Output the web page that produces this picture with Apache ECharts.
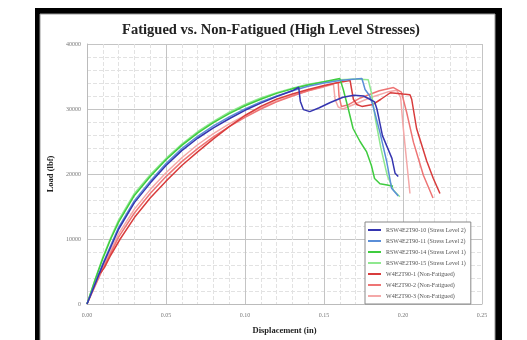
<!DOCTYPE html>
<html><head><meta charset="utf-8">
<script src="https://cdn.jsdelivr.net/npm/echarts@6/dist/echarts.min.js"></script>
<style>html,body{margin:0;padding:0;background:#fff}#c{width:527px;height:340px}</style>
</head><body><div id="c"></div>
<script>
var titleText = 'Fatigued vs. Non-Fatigued (High Level Stresses)';
var xName = 'Displacement (in)';
var yName = 'Load (lbf)';
var seriesNames = ['RSW4E2T90-10 (Stress Level 2)','RSW4E2T90-11 (Stress Level 2)','RSW4E2T90-14 (Stress Level 1)','RSW4E2T90-15 (Stress Level 1)','W4E2T90-1 (Non-Fatigued)','W4E2T90-2 (Non-Fatigued)','W4E2T90-3 (Non-Fatigued)'];
var seriesColors = ['#3535b0','#5a8ed8','#3fcc3f','#8fe88f','#d83c3c','#ee7474','#f4a8a8'];

var rsw10 = [[0,0],[0.01,6000],[0.02,11500],[0.03,15600],[0.04,18600],[0.05,21300],[0.06,23600],[0.07,25500],[0.08,27100],[0.09,28500],[0.10,29800],[0.11,30900],[0.12,31900],[0.13,32800],[0.134,33350],[0.135,31200],[0.137,29900],[0.141,29600],[0.147,30200],[0.154,31000],[0.162,31800],[0.169,32100],[0.175,32000],[0.179,31500],[0.182,31100],[0.1835,30000],[0.187,25900],[0.193,22400],[0.195,20100],[0.197,19600]];
var rsw11 = [[0,0],[0.01,6200],[0.02,11800],[0.03,15900],[0.04,18900],[0.05,21600],[0.06,23900],[0.07,25800],[0.08,27400],[0.09,28800],[0.10,30000],[0.11,31100],[0.12,32000],[0.13,32800],[0.14,33500],[0.15,34000],[0.16,34400],[0.17,34600],[0.174,34700],[0.176,33000],[0.179,32000],[0.181,30500],[0.1854,26400],[0.1897,21900],[0.1928,17800],[0.197,16600]];
var rsw14 = [[0,0],[0.005,3600],[0.01,7000],[0.015,10000],[0.02,12600],[0.03,16700],[0.04,19600],[0.05,22200],[0.06,24400],[0.07,26300],[0.08,27900],[0.09,29300],[0.10,30500],[0.11,31500],[0.12,32400],[0.13,33100],[0.14,33700],[0.15,34200],[0.16,34700],[0.1622,33000],[0.1654,30000],[0.1684,27000],[0.1728,25000],[0.177,23400],[0.180,21300],[0.182,19300],[0.1854,18500],[0.190,18300],[0.1937,18100]];
var rsw15 = [[0,0],[0.005,3700],[0.01,7200],[0.015,10200],[0.02,12900],[0.03,17000],[0.04,19900],[0.05,22400],[0.06,24600],[0.07,26500],[0.08,28100],[0.09,29500],[0.10,30700],[0.11,31700],[0.12,32500],[0.13,33200],[0.14,33800],[0.15,34200],[0.16,34500],[0.17,34600],[0.178,34500],[0.180,32500],[0.1825,28500],[0.186,24000],[0.190,19800],[0.194,17500],[0.198,16500]];
var w1 = [[0,0],[0.005,3200],[0.007,4600],[0.009,4900],[0.011,5600],[0.015,7500],[0.021,10000],[0.03,13300],[0.04,16300],[0.05,18900],[0.06,21300],[0.07,23400],[0.08,25400],[0.09,27300],[0.10,29000],[0.11,30400],[0.12,31500],[0.13,32300],[0.14,33000],[0.15,33600],[0.16,34100],[0.1665,34400],[0.1675,33000],[0.1686,31500],[0.1707,30700],[0.174,30400],[0.181,30700],[0.186,31500],[0.192,32500],[0.200,32300],[0.2044,32200],[0.2055,31500],[0.2086,27000],[0.215,22000],[0.2192,19300],[0.2234,17000]];
var w2 = [[0,0],[0.01,5400],[0.02,10300],[0.03,14000],[0.04,17000],[0.05,19600],[0.06,21900],[0.07,23900],[0.08,25700],[0.09,27300],[0.10,28700],[0.11,30000],[0.12,31100],[0.13,32000],[0.14,32800],[0.15,33500],[0.159,34100],[0.1595,32000],[0.161,30400],[0.165,30600],[0.173,31700],[0.185,32800],[0.194,33300],[0.199,32600],[0.2023,29500],[0.2066,24900],[0.2129,19800],[0.219,16300]];
var w3 = [[0,0],[0.01,5700],[0.02,10800],[0.03,14600],[0.04,17600],[0.05,20200],[0.06,22500],[0.07,24500],[0.08,26200],[0.09,27700],[0.10,29000],[0.11,30200],[0.12,31200],[0.13,32100],[0.14,32800],[0.15,33400],[0.156,33800],[0.157,31500],[0.159,30300],[0.162,30000],[0.17,30800],[0.18,31800],[0.19,32600],[0.196,32900],[0.1985,31800],[0.200,27500],[0.2025,21500],[0.2044,17000]];
var allData = [rsw10, rsw11, rsw14, rsw15, w1, w2, w3];

var serif = '"Liberation Serif","DejaVu Serif",serif';
var chart = echarts.init(document.getElementById('c'), null, {renderer:'canvas'});
var series = allData.map(function(d,i){
  return {name:seriesNames[i], type:'line', data:d, symbol:'none', showSymbol:false, smooth:false,
    lineStyle:{color:seriesColors[i], width:1.5}, itemStyle:{color:seriesColors[i]}, z:10-i};
});
chart.setOption({
  animation:false,
  backgroundColor:'#fff',
  graphic:[
    {type:'rect', shape:{x:35,y:8,width:467,height:340}, style:{fill:'#000'}, z:-10, silent:true},
    {type:'rect', shape:{x:40,y:14,width:455,height:340}, style:{fill:'#fff', stroke:'#999', lineWidth:1}, z:-9, silent:true}
  ],
  title:{text:titleText, left:266, textAlign:'center', top:18,
    textStyle:{fontFamily:serif, fontWeight:'bold', fontSize:14.5, color:'#222'}},
  grid:{left:87, top:44, width:395, height:263, containLabel:false},
  legend:{orient:'vertical', left:365, top:222, icon:'rect', itemWidth:13, itemHeight:2, itemGap:3,
    padding:[4,5,4,3], backgroundColor:'#fff', borderColor:'#888', borderWidth:1,
    textStyle:{fontFamily:serif, fontSize:6, lineHeight:8, color:'#555'}, data:seriesNames},
  xAxis:{type:'value', min:0, max:0.25, interval:0.05, name:xName, nameLocation:'middle', nameGap:22,
    nameTextStyle:{fontFamily:serif, fontWeight:'bold', fontSize:8.5, color:'#222'},
    axisLine:{show:true, lineStyle:{color:'#bbb'}}, axisTick:{show:false},
    axisLabel:{formatter:function(v){return v.toFixed(2);}, fontFamily:serif, fontSize:6, color:'#777', margin:8},
    splitLine:{show:true, lineStyle:{color:'#c4c4c4', width:1}},
    minorTick:{show:false, splitNumber:5},
    minorSplitLine:{show:true, lineStyle:{color:'#e2e2e2', type:'dashed', width:1}}},
  yAxis:{type:'value', min:0, max:40000, interval:10000, name:yName, nameLocation:'middle', nameGap:19,
    nameTextStyle:{fontFamily:serif, fontWeight:'bold', fontSize:8.5, color:'#222'},
    axisLine:{show:true, lineStyle:{color:'#bbb'}}, axisTick:{show:false},
    axisLabel:{formatter:function(v){return String(v);}, fontFamily:serif, fontSize:6, color:'#777', margin:6},
    splitLine:{show:true, lineStyle:{color:'#c4c4c4', width:1}},
    minorTick:{show:false, splitNumber:5},
    minorSplitLine:{show:true, lineStyle:{color:'#e2e2e2', type:'dashed', width:1}}},
  series:series
});
</script></body></html>
